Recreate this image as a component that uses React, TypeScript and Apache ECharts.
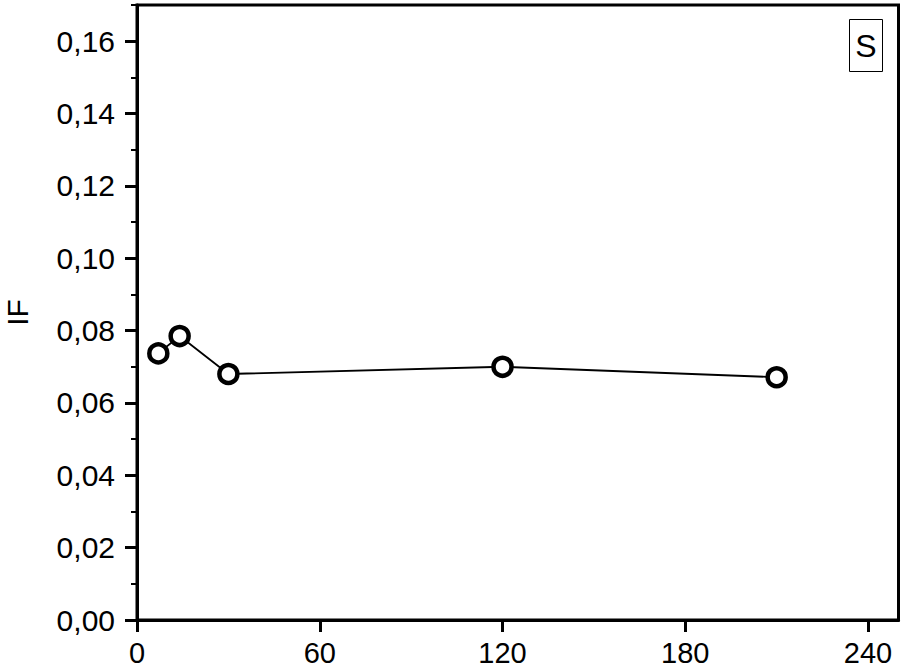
import React, { useEffect, useRef } from "react";
import * as echarts from "echarts";

const timeValues = [7, 14, 30, 120, 210];
const ifValues = [0.0737, 0.0785, 0.068, 0.07, 0.0671];
const xTicks = [0, 60, 120, 180, 240];
const yTicks = [0, 0.02, 0.04, 0.06, 0.08, 0.1, 0.12, 0.14, 0.16];
const legendLabel = "S";
const yAxisName = "IF";

export default function App() {
  const ref = useRef<HTMLDivElement>(null);
  useEffect(() => {
    if (!ref.current) return;
    const chart = echarts.init(ref.current, null, { renderer: "svg" });
    const font = "Arial, 'Liberation Sans', sans-serif";
    chart.setOption({
      animation: false,
      backgroundColor: "#ffffff",
      grid: {
        left: 137,
        right: 3.5,
        top: 5,
        bottom: 49,
        outerBoundsMode: "none",
        containLabel: false,
        show: true,
        borderColor: "#000",
        borderWidth: 3,
        backgroundColor: "transparent",
      },
      xAxis: {
        type: "value",
        min: 0,
        max: 250,
        interval: 60,
        axisLine: { show: true, lineStyle: { color: "#000", width: 3 } },
        axisTick: {
          show: true,
          inside: false,
          length: 12,
          lineStyle: { color: "#000", width: 3 },
          customValues: xTicks,
        },
        axisLabel: {
          color: "#000",
          fontSize: 29,
          fontFamily: font,
          margin: 18,
          customValues: xTicks,
          formatter: (v: number) => String(v),
        },
        splitLine: { show: false },
      },
      yAxis: {
        type: "value",
        min: 0,
        max: 0.17,
        interval: 0.02,
        name: yAxisName,
        nameLocation: "middle",
        nameGap: 105,
        nameRotate: 90,
        nameTextStyle: { color: "#000", fontSize: 30, fontFamily: font },
        axisLine: { show: true, lineStyle: { color: "#000", width: 3 } },
        axisTick: {
          show: true,
          inside: false,
          length: 12,
          lineStyle: { color: "#000", width: 3 },
          customValues: yTicks,
        },
        minorTick: {
          show: true,
          splitNumber: 2,
          length: 6,
          lineStyle: { color: "#000", width: 2 },
        },
        axisLabel: {
          color: "#000",
          fontSize: 30,
          fontFamily: font,
          margin: 22,
          customValues: yTicks,
          formatter: (v: number) => v.toFixed(2).replace(".", ","),
        },
        splitLine: { show: false },
        minorSplitLine: { show: false },
      },
      series: [
        {
          type: "line",
          data: timeValues.map((t, i) => [t, ifValues[i]]),
          symbol: "circle",
          symbolSize: 18,
          lineStyle: { color: "#000", width: 1.8 },
          itemStyle: { color: "#fff", borderColor: "#000", borderWidth: 4.5 },
        },
      ],
      graphic: [
        {
          type: "group",
          left: 849,
          top: 19,
          children: [
            {
              type: "rect",
              shape: { x: 0, y: 0, width: 33, height: 52 },
              style: { fill: "#fff", stroke: "#000", lineWidth: 1 },
            },
            {
              type: "text",
              x: 16.5,
              y: 26,
              style: {
                text: legendLabel,
                fontSize: 32,
                fontFamily: font,
                fill: "#000",
                align: "center",
                verticalAlign: "middle",
              },
            },
          ],
        },
      ],
    });
    return () => chart.dispose();
  }, []);
  return (
    <div
      ref={ref}
      style={{ position: "absolute", left: 0, top: 0, width: 902, height: 669 }}
    />
  );
}
